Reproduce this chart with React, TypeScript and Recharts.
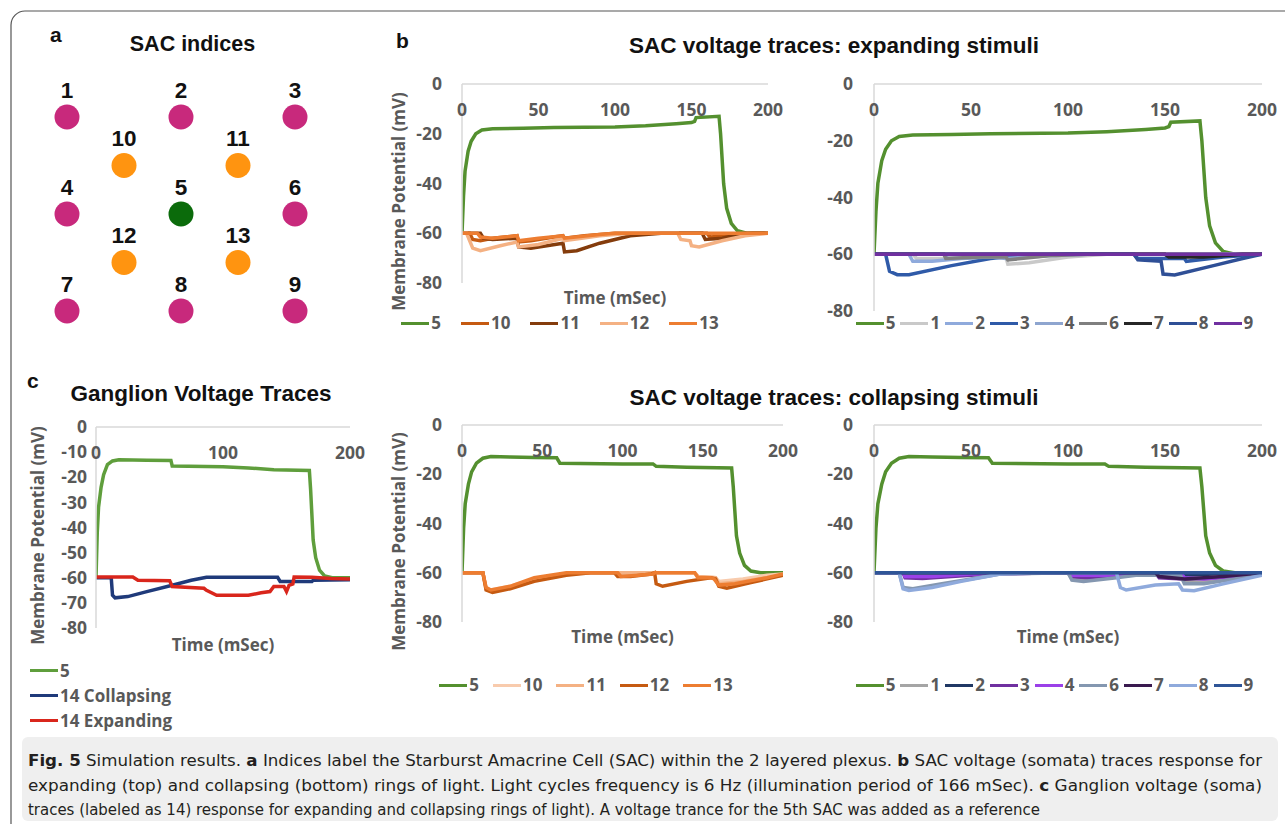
import React from 'react';
import { LineChart, Line, XAxis, YAxis, Legend, ScatterChart, Scatter } from 'recharts';

// ---------- Panel a: SAC layout ----------
const outerCells = [
  { id: '1', col: 0, row: 0 }, { id: '2', col: 2, row: 0 }, { id: '3', col: 4, row: 0 },
  { id: '4', col: 0, row: 2 }, { id: '6', col: 4, row: 2 },
  { id: '7', col: 0, row: 4 }, { id: '8', col: 2, row: 4 }, { id: '9', col: 4, row: 4 },
];
const innerCells = [
  { id: '10', col: 1, row: 1 }, { id: '11', col: 3, row: 1 },
  { id: '12', col: 1, row: 3 }, { id: '13', col: 3, row: 3 },
];
const centerCell = [{ id: '5', col: 2, row: 2 }];

// ---------- ticks ----------
const xTicks50 = [0, 50, 100, 150, 200];
const xTicks100 = [0, 100, 200];
const yTicks20 = [0, -20, -40, -60, -80];
const yTicks10 = [0, -10, -20, -30, -40, -50, -60, -70, -80];

// ---------- b: expanding stimuli (time mSec, mV) ----------
const sac5Expanding: [number, number][] = [[0,-60],[1,-45],[2,-35],[4,-27],[6,-23],[9,-20],[13,-18.5],[20,-18],[40,-17.8],[60,-17.5],[100,-17.3],[120,-16.8],[140,-16],[150,-15.5],[152,-15],[153,-13.5],[168,-13],[169,-20],[170,-30],[171,-40],[173,-50],[176,-56],[180,-59],[186,-60],[200,-60]];
const sac10Expanding: [number, number][] = [[0,-60],[5,-60],[7,-62.5],[12,-63],[20,-62],[36,-61],[37,-63.5],[45,-63],[60,-61.5],[66,-61],[67,-62],[80,-61],[100,-60],[160,-60],[162,-61.5],[175,-61],[190,-60],[200,-60]];
const sac11Expanding: [number, number][] = [[0,-60],[12,-60],[14,-62],[20,-62.5],[36,-62],[37,-65.5],[45,-66],[66,-64],[67,-67.5],[75,-67],[90,-64],[110,-61],[130,-60],[157,-60],[159,-62.5],[170,-62],[185,-60],[200,-60]];
const sac12Expanding: [number, number][] = [[0,-60],[3,-60],[7,-66],[12,-67],[25,-65],[36,-63.5],[37,-65.5],[50,-64.5],[66,-62],[67,-63],[90,-61],[110,-60],[141,-60],[143,-62.5],[149,-63],[150,-65],[155,-65.5],[170,-63],[185,-61],[200,-60]];
const sac13Expanding: [number, number][] = [[0,-60],[10,-60],[12,-61.5],[20,-62],[36,-61],[37,-63],[50,-62],[66,-61],[67,-62],[90,-60.5],[100,-60],[200,-60]];

const sac1Expanding: [number, number][] = [[0,-60],[20,-60],[22,-61.5],[40,-61.5],[68,-61],[69,-63.5],[80,-63],[100,-61],[120,-60],[200,-60]];
const sac2Expanding: [number, number][] = [[0,-60],[18,-60],[20,-62.5],[30,-62.5],[45,-61.5],[68,-60.5],[100,-60],[200,-60]];
const sac3Expanding: [number, number][] = [[0,-60],[6,-60],[8,-66],[12,-67.2],[18,-67.2],[40,-64],[60,-61.5],[75,-60.5],[100,-60],[134,-60],[136,-61.5],[160,-61.5],[161,-62.5],[180,-61],[200,-60]];
const sac4Expanding: [number, number][] = [[0,-60],[36,-60],[38,-61.5],[60,-61],[68,-61.5],[90,-60.5],[110,-60],[200,-60]];
const sac6Expanding: [number, number][] = [[0,-60],[36,-60],[37,-61.5],[55,-61],[68,-61],[69,-62],[90,-60.5],[110,-60],[200,-60]];
const sac7Expanding: [number, number][] = [[0,-60],[150,-60],[152,-61],[170,-61],[190,-60],[200,-60]];
const sac8Expanding: [number, number][] = [[0,-60],[134,-60],[136,-62],[148,-62.5],[149,-67],[155,-67.3],[175,-64],[190,-61.5],[200,-60]];
const sac9Expanding: [number, number][] = [[0,-60],[200,-60]];

// ---------- b: collapsing stimuli ----------
const sac5Collapsing: [number, number][] = [[0,-60],[1,-42],[2,-32],[4,-24],[6,-19],[9,-15.5],[13,-13.5],[18,-12.8],[30,-13],[45,-13.2],[59,-13.3],[61,-15.5],[100,-15.8],[119,-15.8],[121,-16.8],[140,-17.2],[168,-17.5],[169,-25],[170,-35],[171,-45],[173,-52],[176,-57],[180,-59.3],[186,-60],[200,-60]];
const sac10Collapsing: [number, number][] = [[0,-60],[13,-60],[15,-66],[18,-67],[30,-65.5],[45,-62.5],[65,-60.5],[80,-60],[145,-60],[147,-61.5],[158,-62],[160,-63.5],[175,-62.5],[190,-61],[200,-60.5]];
const sac11Collapsing: [number, number][] = [[0,-60],[13,-60],[15,-66.5],[18,-67.5],[30,-66],[45,-63],[65,-60.5],[80,-60],[145,-60],[147,-61.5],[158,-62],[160,-64.5],[175,-63.5],[190,-62],[200,-61]];
const sac12Collapsing: [number, number][] = [[0,-60],[13,-60],[15,-67],[19,-68],[30,-66.5],[45,-63.5],[65,-61],[80,-60],[95,-60],[97,-61.5],[105,-61.5],[118,-60.5],[120,-60],[121,-64.5],[125,-65.5],[140,-63.5],[155,-62],[158,-62.5],[160,-65.5],[165,-66.3],[180,-64],[200,-61]];
const sac13Collapsing: [number, number][] = [[0,-60],[13,-60],[15,-66],[18,-67],[30,-65.5],[45,-62],[65,-60],[97,-60],[99,-61.5],[110,-61],[119,-60.5],[120,-60],[145,-60],[147,-62],[155,-62],[157,-62.5],[160,-65],[170,-64.5],[190,-62],[200,-60.5]];

const sac1Collapsing: [number, number][] = [[0,-60],[100,-60],[102,-62.5],[110,-63],[125,-61.5],[140,-60.5],[158,-60.5],[160,-63],[175,-63],[200,-60.5]];
const sac2Collapsing: [number, number][] = [[0,-60],[145,-60],[147,-61],[160,-61],[190,-60],[200,-60]];
const sac3Collapsing: [number, number][] = [[0,-60],[15,-60],[16,-62],[25,-62.3],[40,-61.5],[60,-60.5],[100,-60],[102,-61.5],[110,-62],[125,-61],[135,-60.5],[145,-60],[147,-62],[160,-62.5],[175,-62],[200,-60.5]];
const sac4Collapsing: [number, number][] = [[0,-60],[15,-60],[16,-61.5],[30,-61.5],[50,-60.5],[100,-60],[102,-61],[120,-61],[140,-60],[158,-60],[160,-62],[170,-62.5],[190,-61],[200,-60]];
const sac6Collapsing: [number, number][] = [[0,-60],[13,-60],[15,-66],[20,-66.5],[35,-64.5],[50,-62.5],[65,-60.5],[100,-60],[102,-63],[108,-63.5],[125,-62],[135,-61],[158,-61],[160,-64.5],[170,-64.5],[190,-62],[200,-60.5]];
const sac7Collapsing: [number, number][] = [[0,-60],[145,-60],[147,-61.5],[160,-62.5],[180,-61.5],[200,-60]];
const sac8Collapsing: [number, number][] = [[0,-60],[13,-60],[15,-66.5],[18,-67.2],[30,-66],[45,-63.5],[65,-60.5],[80,-60],[125,-60],[127,-66],[130,-67],[145,-65],[157,-64.5],[159,-67],[165,-67.3],[180,-64.5],[200,-61]];
const sac9Collapsing: [number, number][] = [[0,-60],[200,-60]];

// ---------- c: ganglion ----------
const ganglionSac5: [number, number][] = [[0,-60],[1,-42],[2,-32],[4,-24],[6,-19],[9,-15],[13,-13.5],[18,-13],[40,-13.2],[59,-13.3],[60,-15.5],[100,-15.8],[120,-16.3],[140,-17],[168,-17.3],[169,-25],[170,-35],[171,-45],[173,-52],[176,-57],[180,-59.3],[186,-60],[200,-60]];
const ganglionCollapsing: [number, number][] = [[0,-60],[12,-60],[13,-67],[15,-68],[25,-67.5],[40,-65.5],[60,-63],[75,-61],[87,-59.8],[143,-59.8],[145,-61.5],[170,-61.5],[171,-61],[200,-60.8]];
const ganglionExpanding: [number, number][] = [[0,-59.7],[29,-59.7],[33,-61],[58,-61.2],[60,-63.5],[85,-64.2],[87,-65],[95,-67],[120,-67],[130,-66],[137,-65.5],[140,-63.5],[148,-63.5],[150,-65.5],[152,-63],[155,-62.5],[156,-59.7],[170,-59.8],[185,-60.3],[200,-60.5]];

// ---------- styling ----------
const FONT = '"Open Sans", "Noto Sans", sans-serif';
const TFONT = '"Liberation Sans", Arial, sans-serif';
const GRAY = '#595959';
const AXIS = '#d9d9d9';
const GREEN = '#54902f';

type Pt = [number, number];
type Series = { name: string; color: string; data: Pt[] };
const pts = (a: Pt[]) => a.map(([t, v]) => ({ t, v }));

const expInner: Series[] = [
  { name: '5', color: GREEN, data: sac5Expanding },
  { name: '10', color: '#c55a11', data: sac10Expanding },
  { name: '11', color: '#843c0c', data: sac11Expanding },
  { name: '12', color: '#f4b183', data: sac12Expanding },
  { name: '13', color: '#ed7d31', data: sac13Expanding },
];
const expOuter: Series[] = [
  { name: '5', color: GREEN, data: sac5Expanding },
  { name: '1', color: '#c9c9c9', data: sac1Expanding },
  { name: '2', color: '#8faadc', data: sac2Expanding },
  { name: '3', color: '#2f5aa8', data: sac3Expanding },
  { name: '4', color: '#8ea5cf', data: sac4Expanding },
  { name: '6', color: '#7f7f7f', data: sac6Expanding },
  { name: '7', color: '#262626', data: sac7Expanding },
  { name: '8', color: '#2f4f96', data: sac8Expanding },
  { name: '9', color: '#7030a0', data: sac9Expanding },
];
const colInner: Series[] = [
  { name: '5', color: GREEN, data: sac5Collapsing },
  { name: '10', color: '#f8cbad', data: sac10Collapsing },
  { name: '11', color: '#f4b183', data: sac11Collapsing },
  { name: '12', color: '#c55a11', data: sac12Collapsing },
  { name: '13', color: '#ed7d31', data: sac13Collapsing },
];
const colOuter: Series[] = [
  { name: '5', color: GREEN, data: sac5Collapsing },
  { name: '1', color: '#a5a5a5', data: sac1Collapsing },
  { name: '2', color: '#203864', data: sac2Collapsing },
  { name: '3', color: '#7030a0', data: sac3Collapsing },
  { name: '4', color: '#9b40e8', data: sac4Collapsing },
  { name: '6', color: '#8497b0', data: sac6Collapsing },
  { name: '7', color: '#3a1a4f', data: sac7Collapsing },
  { name: '8', color: '#8faadc', data: sac8Collapsing },
  { name: '9', color: '#2f5597', data: sac9Collapsing },
];
const ganglion: Series[] = [
  { name: '5', color: '#5f9e3c', data: ganglionSac5 },
  { name: '14 Collapsing', color: '#1f3a7a', data: ganglionCollapsing },
  { name: '14 Expanding', color: '#d9261c', data: ganglionExpanding },
];

const LegendBox = ({ payload, gap, vertical, order }: any) => {
  const items = [...(payload || [])].sort(
    (a: any, b: any) => order.indexOf(a.value) - order.indexOf(b.value));
  return (
    <div style={{
      display: 'flex', flexDirection: vertical ? 'column' : 'row', justifyContent: 'center',
      alignItems: vertical ? 'flex-start' : 'center', fontFamily: FONT, fontWeight: 700, fontSize: 17,
      color: GRAY, whiteSpace: 'nowrap', lineHeight: vertical ? '25px' : '24px',
    }}>
      {items.map((p: any, i: number) => (
        <span key={i} style={{ display: 'inline-flex', alignItems: 'center', marginRight: vertical ? 0 : gap }}>
          <span style={{ display: 'inline-block', width: 28, height: 3, background: p.color, marginRight: 2 }} />
          {p.value}
        </span>
      ))}
    </div>
  );
};

type ChartProps = {
  left: number; top: number; width: number; height: number;
  margin: { top: number; right: number; bottom: number; left: number };
  yAxisWidth: number; yTicks: number[]; xTicks: number[]; yGap: number;
  yLabelOffset?: number; yLabelShift?: number; xLabelHeight?: number; series: Series[];
  legend: { top: number; left: number; width: number; gap: number; vertical?: boolean };
};

const tickStyle = { fill: GRAY, fontSize: 17.5, fontWeight: 700, fontFamily: FONT };
const labelStyle = { fill: GRAY, fontSize: 17, fontWeight: 700, fontFamily: FONT };

const TraceChart = (p: ChartProps) => (
  <div style={{ position: 'absolute', left: p.left, top: p.top }}>
    <LineChart width={p.width} height={p.height} margin={p.margin}>
      <XAxis xAxisId="t" dataKey="t" type="number" orientation="top" mirror domain={[0, 200]}
        ticks={p.xTicks} interval={0} axisLine={{ stroke: AXIS, strokeWidth: 1.5 }} tickLine={false}
        tickSize={6} tickMargin={14} tick={tickStyle} allowDataOverflow />
      {p.xLabelHeight ? (
        <XAxis xAxisId="lbl" type="number" orientation="bottom" domain={[0, 200]} height={p.xLabelHeight}
          axisLine={false} tickLine={false} tick={false}
          label={{ value: 'Time (mSec)', position: 'center', ...labelStyle }} />
      ) : null}
      <YAxis type="number" domain={[-80, 0]} ticks={p.yTicks} interval={0} width={p.yAxisWidth}
        axisLine={{ stroke: AXIS, strokeWidth: 1.5 }} tickLine={false} tickSize={6} tickMargin={p.yGap - 6}
        tick={tickStyle} allowDataOverflow
        label={p.yLabelOffset !== undefined ? {
          value: 'Membrane Potential (mV)',
          content: (lp: any) => {
            const vb = lp.viewBox;
            const cx = vb.x + (p.yLabelOffset as number);
            const cy = vb.y + vb.height / 2 + (p.yLabelShift || 0);
            return (
              <text transform={`translate(${cx},${cy}) rotate(-90)`} textAnchor="middle"
                dominantBaseline="central" {...labelStyle}>Membrane Potential (mV)</text>
            );
          },
        } : undefined} />
      {p.series.map((s) => (
        <Line key={s.name} xAxisId="t" data={pts(s.data)} dataKey="v" name={s.name} stroke={s.color}
          strokeWidth={3.5} dot={false} type="linear" isAnimationActive={false} />
      ))}
      <Legend verticalAlign="middle" align="center" layout="horizontal"
        wrapperStyle={{ top: p.legend.top, left: p.legend.left, width: p.legend.width }}
        content={(lp: any) => (
          <LegendBox payload={lp.payload} gap={p.legend.gap} vertical={p.legend.vertical}
            order={p.series.map((s) => s.name)} />
        )} />
    </LineChart>
  </div>
);

const cellShape = (fill: string) => (props: any) => (
  <g>
    <circle cx={props.cx} cy={props.cy} r={12.5} fill={fill} />
    <text x={props.cx} y={props.cy - 19.5} textAnchor="middle" fontFamily={TFONT} fontWeight={700}
      fontSize={22.5} fill="#111">{props.payload.id}</text>
  </g>
);

export default function App() {
  return (
    <div style={{ position: 'absolute', left: 0, top: 0, width: 1285, height: 824, background: '#fff', overflow: 'hidden' }}>
      <svg width={1285} height={824} style={{ position: 'absolute', left: 0, top: 0 }}>
        <rect x={11} y={11} width={1320} height={900} rx={14} fill="none" stroke="#555" strokeWidth={1.2} />
        <rect x={22} y={737} width={1256} height={84} rx={6} fill="#efefef" />
        <g fontFamily={TFONT} fontWeight={700} fill="#111">
          <text x={50} y={42} fontSize={21}>a</text>
          <text x={192.5} y={51} fontSize={21.5} textAnchor="middle">SAC indices</text>
          <text x={396} y={48} fontSize={21}>b</text>
          <text x={834} y={53} fontSize={22.5} textAnchor="middle">SAC voltage traces: expanding stimuli</text>
          <text x={27} y={388} fontSize={21}>c</text>
          <text x={201} y={401} fontSize={22.5} textAnchor="middle">Ganglion Voltage Traces</text>
          <text x={834} y={405} fontSize={22.5} textAnchor="middle">SAC voltage traces: collapsing stimuli</text>
        </g>
        <g fontFamily='"DejaVu Sans Condensed", "Liberation Sans Narrow", sans-serif' fontSize={16.5} fill="#231f20">
          <text x={28} y={766} textLength={1234} lengthAdjust="spacingAndGlyphs">
            <tspan fontWeight={700}>Fig. 5</tspan>{'  Simulation results. '}<tspan fontWeight={700}>a</tspan>{' Indices label the Starburst Amacrine Cell (SAC) within the 2 layered plexus. '}<tspan fontWeight={700}>b</tspan>{' SAC voltage (somata) traces response for'}
          </text>
          <text x={28} y={791} textLength={1234} lengthAdjust="spacingAndGlyphs">
            {'expanding (top) and collapsing (bottom) rings of light. Light cycles frequency is 6 Hz (illumination period of 166 mSec). '}<tspan fontWeight={700}>c</tspan>{' Ganglion voltage (soma)'}
          </text>
          <text x={28} y={815} textLength={1012} lengthAdjust="spacingAndGlyphs">
            traces (labeled as 14) response for expanding and collapsing rings of light). A voltage trance for the 5th SAC was added as a reference
          </text>
        </g>
      </svg>

      <div style={{ position: 'absolute', left: 40, top: 60 }}>
        <ScatterChart width={300} height={280} margin={{ top: 57, right: 45, bottom: 29, left: 27 }}>
          <XAxis type="number" dataKey="col" domain={[0, 4]} hide />
          <YAxis type="number" dataKey="row" domain={[0, 4]} reversed hide />
          <Scatter data={outerCells} shape={cellShape('#c8297c')} isAnimationActive={false} />
          <Scatter data={innerCells} shape={cellShape('#ff9410')} isAnimationActive={false} />
          <Scatter data={centerCell} shape={cellShape('#0b6b0b')} isAnimationActive={false} />
        </ScatterChart>
      </div>

      <TraceChart left={380} top={70} width={420} height={275}
        margin={{ top: 14, right: 32, bottom: 32, left: 0 }} yAxisWidth={82}
        yTicks={yTicks20} xTicks={xTicks50} yGap={20} yLabelOffset={18} yLabelShift={18} xLabelHeight={30}
        series={expInner} legend={{ top: 241, left: 0, width: 380, gap: 20 }} />
      <TraceChart left={800} top={70} width={480} height={270}
        margin={{ top: 14, right: 18, bottom: 29, left: 0 }} yAxisWidth={74}
        yTicks={yTicks20} xTicks={xTicks50} yGap={21}
        series={expOuter} legend={{ top: 241, left: 17, width: 480, gap: 5 }} />
      <TraceChart left={20} top={410} width={360} height={320}
        margin={{ top: 17, right: 30, bottom: 68, left: 0 }} yAxisWidth={76}
        yTicks={yTicks10} xTicks={xTicks100} yGap={9} yLabelOffset={17} yLabelShift={8} xLabelHeight={34}
        series={ganglion} legend={{ top: 248, left: 10, width: 300, gap: 0, vertical: true }} />
      <TraceChart left={380} top={410} width={430} height={300}
        margin={{ top: 15, right: 27, bottom: 58, left: 0 }} yAxisWidth={82}
        yTicks={yTicks20} xTicks={xTicks50} yGap={20} yLabelOffset={18} yLabelShift={18} xLabelHeight={30}
        series={colInner} legend={{ top: 263, left: 0, width: 426, gap: 14 }} />
      <TraceChart left={800} top={410} width={480} height={300}
        margin={{ top: 15, right: 18, bottom: 58, left: 0 }} yAxisWidth={74}
        yTicks={yTicks20} xTicks={xTicks50} yGap={21} xLabelHeight={30}
        series={colOuter} legend={{ top: 263, left: 17, width: 480, gap: 5 }} />
    </div>
  );
}
